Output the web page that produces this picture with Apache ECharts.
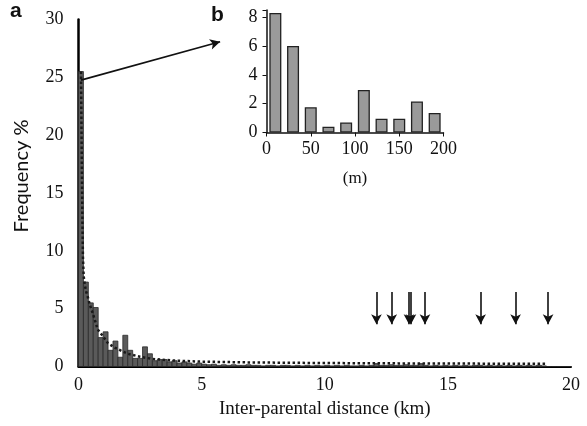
<!DOCTYPE html>
<html>
<head>
<meta charset="utf-8">
<script src="https://cdn.jsdelivr.net/npm/echarts@6/dist/echarts.min.js"></script>
<style>
  html, body { margin: 0; background: #fff; }
  #chart { width: 587px; height: 426px; }
</style>
</head>
<body>
<div id="chart"></div>
<script>
// main histogram: 0.2 km bins from 0 to 20 km (frequency %)
var binWidth = 0.2;
var mainFreq = [
  25.5, 7.3, 5.5, 5.1, 2.5, 3.0, 1.4, 2.2, 0.8, 2.7, 1.4, 0.7, 0.7, 1.7, 1.1, 0.5, 0.6, 0.6, 0.4, 0.5, 0.3, 0.4, 0.3, 0.2, 0.3,
  0.2, 0.15, 0.2, 0.1, 0.15, 0.1, 0.15, 0.1, 0.1, 0.15, 0.1, 0.1, 0.05, 0.1, 0.1, 0.05, 0.1, 0.1, 0.05, 0.1, 0.05, 0.1, 0.05, 0.1, 0.05,
  0.1, 0.05, 0.1, 0.05, 0.1, 0.05, 0.05, 0.1, 0.05, 0.1, 0.25, 0.1, 0.1, 0.15, 0.1, 0.1, 0.15, 0.1, 0.1, 0.25, 0.1, 0.05, 0.1, 0.05, 0.1,
  0.05, 0.1, 0.05, 0.1, 0.05, 0.1, 0.1, 0.05, 0.1, 0.05, 0.1, 0.05, 0.1, 0.05, 0.1, 0.05, 0.1, 0.05, 0.1, 0.05, 0, 0, 0, 0, 0
];

// fitted curve (dotted)
var curveKm  = [0.1, 0.12, 0.14, 0.16, 0.18, 0.21, 0.26, 0.32, 0.38, 0.45, 0.58, 0.68, 0.78, 1.0, 1.2, 1.5, 2.0, 2.5, 3.0, 4.0, 5.0, 7.0, 10.0, 13.0, 16.0, 19.0];
var curvePct = [25.5, 21, 16.5, 12.5, 9.5, 7.8, 7.0, 6.4, 6.0, 5.4, 4.6, 3.9, 3.2, 2.6, 2.0, 1.6, 1.1, 0.85, 0.65, 0.5, 0.42, 0.35, 0.3, 0.27, 0.25, 0.23];

// long distance events marked with arrows (km)
var arrowKm = [12.1, 12.72, 13.42, 13.5, 14.07, 16.33, 17.75, 19.07];

// inset b: 20 m bins
var insetCenters = [10, 30, 50, 70, 90, 110, 130, 150, 170, 190];
var insetFreq = [8.3, 6.0, 1.75, 0.4, 0.7, 2.95, 0.95, 0.95, 2.15, 1.35];

var serif = '"Liberation Serif", "DejaVu Serif", serif';
var sans = '"Liberation Sans", Arial, sans-serif';

var histData = mainFreq.map(function (v, i) {
  return [i * binWidth, (i + 1) * binWidth, v];
});
var curveData = curveKm.map(function (x, i) { return [x, curvePct[i]]; });
var insetData = insetCenters.map(function (x, i) { return [x, insetFreq[i]]; });

var arrowLines = arrowKm.map(function (x) {
  return [{ coord: [x, 6.45] }, { coord: [x, 3.65] }];
});

var chart = echarts.init(document.getElementById('chart'));
chart.setOption({
  animation: false,
  backgroundColor: '#fff',
  grid: [
    { left: 78.5, right: 16, top: 19.5, bottom: 59.5 },
    { left: 266.5, width: 177, top: 10, height: 122.5 }
  ],
  xAxis: [
    {
      gridIndex: 0, type: 'value', min: 0, max: 20, interval: 5,
      axisLine: { lineStyle: { color: '#000', width: 2 } },
      axisTick: { show: false },
      splitLine: { show: false },
      axisLabel: { color: '#111', fontFamily: serif, fontSize: 18, margin: 10 },
      name: 'Inter-parental distance (km)', nameLocation: 'middle', nameGap: 31,
      nameTextStyle: { color: '#111', fontFamily: serif, fontSize: 19 }
    },
    {
      gridIndex: 1, type: 'value', min: 0, max: 200, interval: 50,
      axisLine: { lineStyle: { color: '#111', width: 1.5 } },
      axisTick: { show: true, length: 4, lineStyle: { color: '#111' } },
      splitLine: { show: false },
      axisLabel: { color: '#111', fontFamily: serif, fontSize: 18, margin: 8 },
      name: '(m)', nameLocation: 'middle', nameGap: 38,
      nameTextStyle: { color: '#111', fontFamily: serif, fontSize: 17 }
    }
  ],
  yAxis: [
    {
      gridIndex: 0, type: 'value', min: 0, max: 30, interval: 5,
      axisLine: { show: true, lineStyle: { color: '#000', width: 2.5 } },
      axisTick: { show: false },
      splitLine: { show: false },
      axisLabel: { color: '#111', fontFamily: serif, fontSize: 18, margin: 15 }
    },
    {
      gridIndex: 1, type: 'value', min: 0, max: 8.5, interval: 2,
      axisLine: { show: true, lineStyle: { color: '#111', width: 1.5 } },
      axisTick: { show: true, length: 4, lineStyle: { color: '#111' } },
      splitLine: { show: false },
      axisLabel: {
        color: '#111', fontFamily: serif, fontSize: 18, margin: 9,
        formatter: function (v) { return v % 2 === 0 ? String(v) : ''; }
      }
    }
  ],
  graphic: [
    { type: 'text', left: 10, top: 1, style: { text: 'a', font: 'bold 21px ' + sans, fill: '#111' } },
    { type: 'text', left: 211, top: 5, style: { text: 'b', font: 'bold 21px ' + sans, fill: '#111' } },
    {
      type: 'text', x: 22, y: 176, rotation: Math.PI / 2,
      style: { text: 'Frequency %', font: '20px Lato, ' + sans, fill: '#111', align: 'center', verticalAlign: 'middle' }
    }
  ],
  series: [
    {
      type: 'custom',
      xAxisIndex: 0, yAxisIndex: 0,
      encode: { x: [0, 1], y: 2 },
      data: histData,
      renderItem: function (params, api) {
        var p0 = api.coord([api.value(0), api.value(2)]);
        var p1 = api.coord([api.value(1), 0]);
        return {
          type: 'rect',
          shape: { x: p0[0], y: p0[1], width: p1[0] - p0[0], height: p1[1] - p0[1] },
          style: { fill: '#5a5a5a', stroke: '#2a2a2a', lineWidth: 0.8 }
        };
      },
      z: 2
    },
    {
      type: 'line',
      xAxisIndex: 0, yAxisIndex: 0,
      data: curveData,
      showSymbol: false,
      symbol: 'none',
      lineStyle: { color: '#1a1a1a', width: 2.5, type: [2.5, 2.5] },
      z: 3,
      markLine: {
        silent: true,
        symbol: ['none', 'arrow'],
        symbolSize: [8, 10],
        label: { show: false },
        lineStyle: { color: '#111', width: 1.6, type: 'solid' },
        data: arrowLines.concat([[{ coord: [0.1, 24.76] }, { coord: [5.75, 28.07] }]])
      }
    },
    {
      type: 'bar',
      xAxisIndex: 1, yAxisIndex: 1,
      data: insetData,
      barWidth: 12,
      itemStyle: { color: '#9a9a9a', borderColor: '#222', borderWidth: 1.3 },
      z: 4
    }
  ]
});
</script>
</body>
</html>
